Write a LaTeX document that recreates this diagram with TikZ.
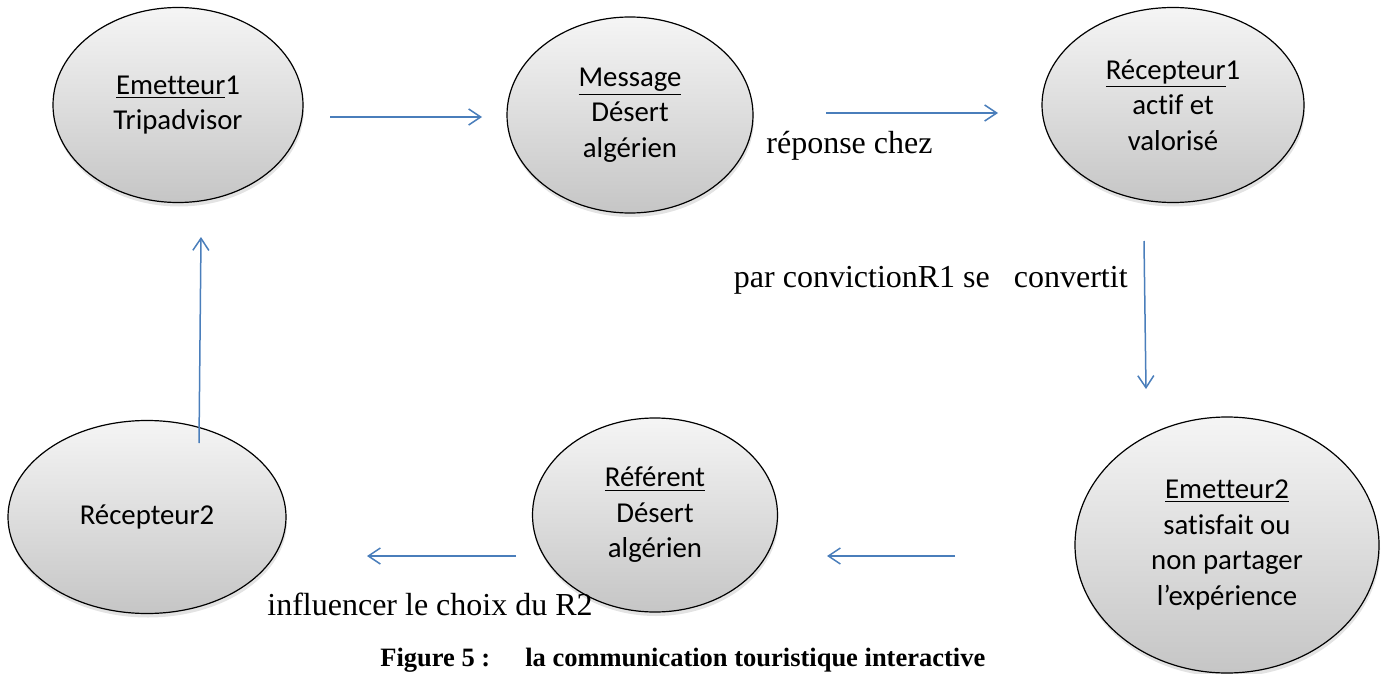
\documentclass[tikz,border=0pt]{standalone}
\usepackage{fontspec}
\setmainfont[Ligatures={NoCommon}]{Carlito}
\newfontfamily\timesfont{Liberation Serif}
\usepackage{xcolor}
\usetikzlibrary{shapes.geometric,arrows.meta,shadows}
\definecolor{flecheblue}{RGB}{74,126,187}
\tikzset{
  ovale/.style={ellipse, draw=black, line width=0.6pt, inner sep=0pt,
    top color=gray!8, bottom color=gray!45, align=center,
    font=\fontsize{14.4}{17.75}\selectfont,
    drop shadow={opacity=0.22, shadow xshift=0.5pt, shadow yshift=-2pt}},
  fleche/.style={draw=flecheblue, line width=0.75pt, -{Straight Barb[length=6pt,width=8pt]}},
  legende/.style={font=\timesfont\fontsize{16}{19}\selectfont, inner sep=0pt}
}

\begin{document}
\begin{tikzpicture}[x=0.5pt,y=-0.5pt]
   \useasboundingbox (0,0) rectangle (1387,674);
   % les bulles
   \node[ovale, minimum width=125pt, minimum height=97.5pt] (emet1) at (178,105) {\underline{Emetteur}1\\Tripadvisor};
   \node[ovale, minimum width=123pt, minimum height=98pt] (msg) at (630,115) {\underline{Message}\\Désert\\algérien};
   \node[ovale, minimum width=131pt, minimum height=97.5pt] (rec1) at (1173,105) {\underline{Récepteur}1\\actif et\\valorisé};
   \node[ovale, minimum width=152pt, minimum height=128pt] (emet2) at (1227,545) {\underline{Emetteur2}\\satisfait ou\\non partager\\l’expérience};
   \node[ovale, minimum width=122.5pt, minimum height=97pt] (refe) at (655,515) {\underline{Référent}\\Désert\\algérien};
   \node[ovale, minimum width=139pt, minimum height=96.5pt] (rec2) at (147,517) {Récepteur2};

   % bouts des fleches
   \coordinate (a1s) at (330,117);  \coordinate (a1e) at (482,117);
   \coordinate (a2s) at (826,113);  \coordinate (a2e) at (998,113);
   \coordinate (a3s) at (1144,241); \coordinate (a3e) at (1146,389);
   \coordinate (a4s) at (955,556);  \coordinate (a4e) at (827,556);
   \coordinate (a5s) at (516,556);  \coordinate (a5e) at (367,556);
   \coordinate (a6s) at (199,443);  \coordinate (a6e) at (201,237);
   \draw[fleche] (a1s) -- (a1e);
   \draw[fleche] (a2s) -- (a2e);
   \draw[fleche] (a3s) -- (a3e);
   \draw[fleche] (a4s) -- (a4e);
   \draw[fleche] (a5s) -- (a5e);
   \draw[fleche] (a6s) -- (a6e);

   % textes
   \node[legende, anchor=base west] (rep) at (766,154) {réponse chez};
   \node[legende, anchor=base east] (conv) at (1128,287) {par convictionR1 se\ \ \ convertit};
   \node[legende, anchor=base west] (infl) at (267,615) {influencer le choix du R2};
   \node[font=\timesfont\fontsize{13.25}{16}\bfseries\selectfont, anchor=base west, inner sep=0pt] (titre) at (380,666) {Figure 5 :\hspace{1.32em}la communication touristique interactive};
\end{tikzpicture}
\end{document}
